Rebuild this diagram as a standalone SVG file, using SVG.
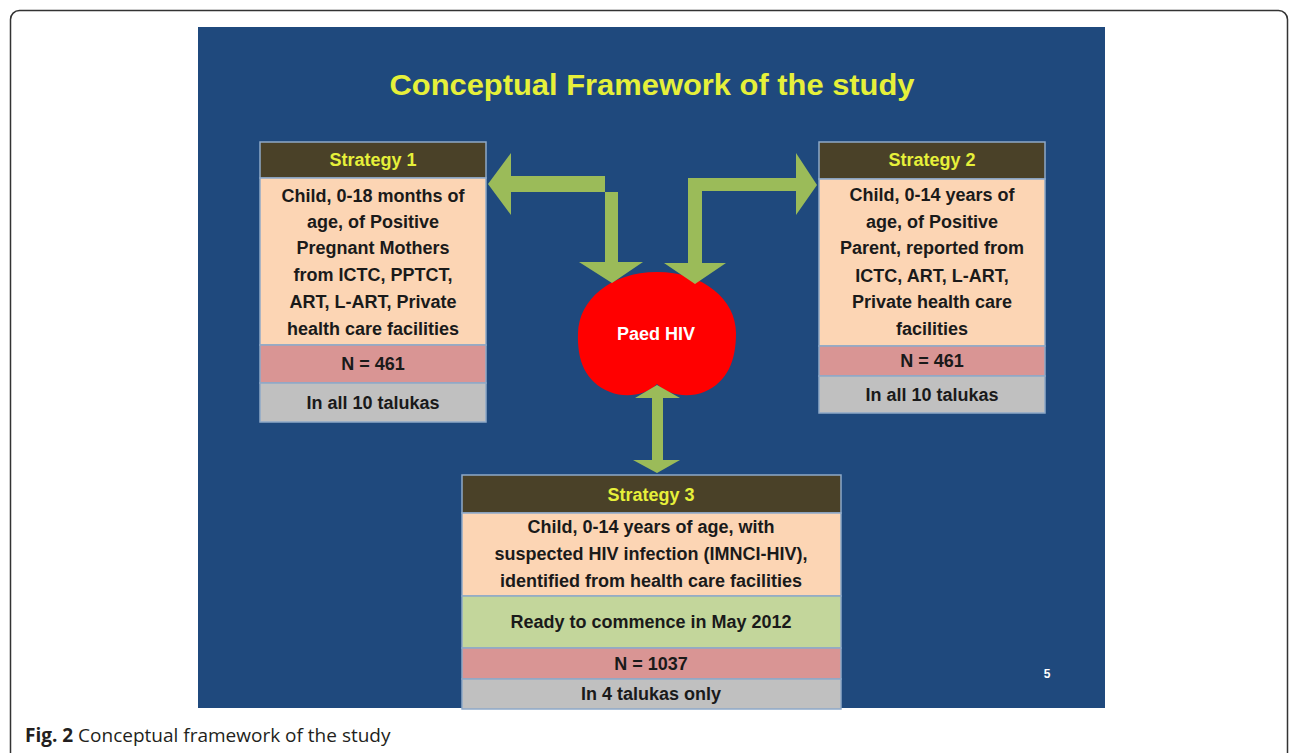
<svg xmlns="http://www.w3.org/2000/svg" width="1290" height="753" viewBox="0 0 1290 753">
<style>
.t{font-family:"Liberation Sans",Arial,sans-serif;font-weight:bold;text-anchor:middle}
.hd{fill:#4a4128}
.pe{fill:#fcd5b4}
.pk{fill:#d99594}
.gr{fill:#c0c0c0}
.gn{fill:#c3d69b}
.bx{stroke:#8ea9c8;stroke-width:1.5}
.ht{fill:#e6f03a;font-size:18px}
.bt{fill:#1a1a1a;font-size:18px}
.ar{fill:#9bbb59}
</style>
<rect x="0" y="0" width="1290" height="753" fill="#ffffff"/>
<rect x="10.5" y="10.5" width="1277" height="800" rx="9" fill="none" stroke="#333333" stroke-width="1.5"/>
<rect x="198" y="27" width="907" height="681" fill="#1f497d"/>
<text x="652" y="95" class="t" font-size="30" fill="#e6f03a" textLength="525" lengthAdjust="spacingAndGlyphs">Conceptual Framework of the study</text>

<g id="paed-hiv">
<path fill="#ff0000" d="M657 384 C645 396 625 398 610 392 C585 382 577 360 578 333 C579 300 610 272 657 272 C704 272 736 300 736 333 C736 360 728 382 704 392 C689 398 669 396 657 384 Z"/>
<text x="656" y="340" class="t" font-size="18" fill="#ffffff">Paed HIV</text>
</g>

<g id="connectors">
<path class="ar" d="M488 184 L511 153 L511 176 L605 176 L605 262 L579 262 L612 283 L643 262 L618 262 L618 192 L511 192 L511 215 Z"/>
<path class="ar" d="M817 185 L796 153 L796 178 L688 178 L688 263 L664 263 L695 284 L726 263 L702 263 L702 191 L796 191 L796 215 Z"/>
<path class="ar" d="M657 385 L680 398 L663 398 L663 460 L680 460 L657 473 L633 460 L652 460 L652 398 L635 398 Z"/>
</g>

<g id="strategy1">
<rect class="hd bx" x="260" y="142" width="226" height="36"/>
<rect class="pe bx" x="260" y="178" width="226" height="167"/>
<rect class="pk bx" x="260" y="345" width="226" height="38"/>
<rect class="gr bx" x="260" y="383" width="226" height="39"/>
<text x="373" y="166" class="t ht">Strategy 1</text>
<text x="373" y="202" class="t bt">Child, 0-18 months of</text>
<text x="373" y="228" class="t bt">age, of Positive</text>
<text x="373" y="254" class="t bt">Pregnant Mothers</text>
<text x="373" y="281" class="t bt">from ICTC, PPTCT,</text>
<text x="373" y="308" class="t bt">ART, L-ART, Private</text>
<text x="373" y="335" class="t bt">health care facilities</text>
<text x="373" y="370" class="t bt">N = 461</text>
<text x="373" y="409" class="t bt">In all 10 talukas</text>
</g>

<g id="strategy2">
<rect class="hd bx" x="819" y="142" width="226" height="37"/>
<rect class="pe bx" x="819" y="179" width="226" height="167"/>
<rect class="pk bx" x="819" y="346" width="226" height="30"/>
<rect class="gr bx" x="819" y="376" width="226" height="37"/>
<text x="932" y="166" class="t ht">Strategy 2</text>
<text x="932" y="201" class="t bt">Child, 0-14 years of</text>
<text x="932" y="228" class="t bt">age, of Positive</text>
<text x="932" y="254" class="t bt">Parent, reported from</text>
<text x="932" y="282" class="t bt">ICTC, ART, L-ART,</text>
<text x="932" y="308" class="t bt">Private health care</text>
<text x="932" y="335" class="t bt">facilities</text>
<text x="932" y="367" class="t bt">N = 461</text>
<text x="932" y="401" class="t bt">In all 10 talukas</text>
</g>

<g id="strategy3">
<rect class="hd bx" x="462" y="475" width="379" height="38"/>
<rect class="pe bx" x="462" y="513" width="379" height="83"/>
<rect class="gn bx" x="462" y="596" width="379" height="52"/>
<rect class="pk bx" x="462" y="648" width="379" height="31"/>
<rect class="gr bx" x="462" y="679" width="379" height="30"/>
<text x="651" y="501" class="t ht">Strategy 3</text>
<text x="651" y="533" class="t bt">Child, 0-14 years of age, with</text>
<text x="651" y="560" class="t bt">suspected HIV infection (IMNCI-HIV),</text>
<text x="651" y="587" class="t bt">identified from health care facilities</text>
<text x="651" y="628" class="t bt">Ready to commence in May 2012</text>
<text x="651" y="670" class="t bt">N = 1037</text>
<text x="651" y="700" class="t bt">In 4 talukas only</text>
</g>

<text x="1047" y="678" class="t" font-size="12" fill="#ffffff">5</text>

<text x="25" y="742" font-family="'Open Sans','Liberation Sans',sans-serif" font-size="19" fill="#231f20"><tspan font-weight="bold">Fig. 2</tspan> Conceptual framework of the study</text>
</svg>
